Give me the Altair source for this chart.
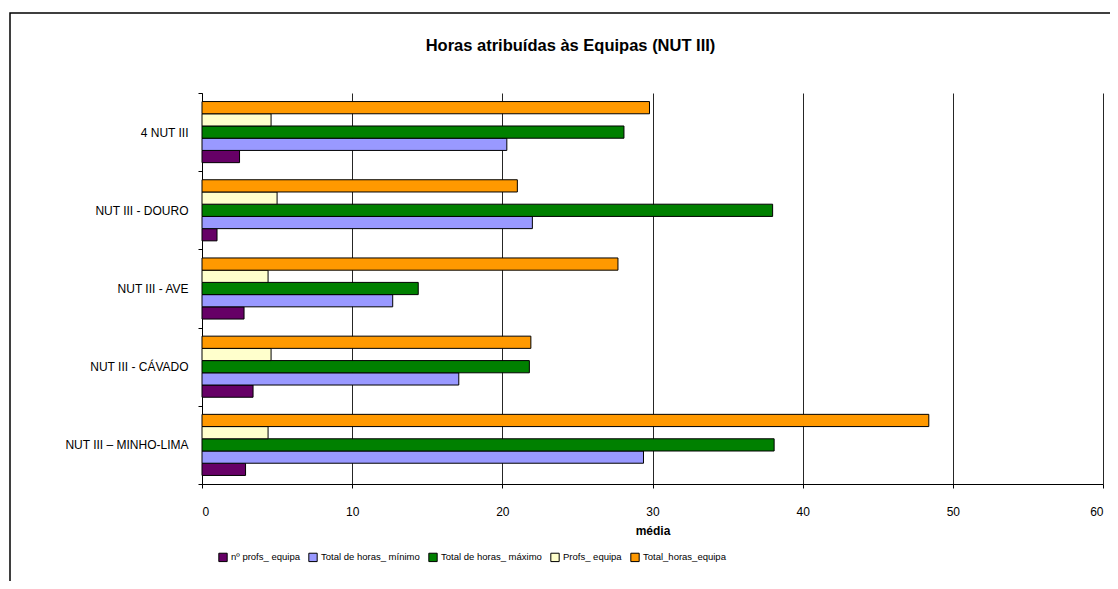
import altair as alt
import pandas as pd

categories = ["4 NUT III", "NUT III - DOURO", "NUT III - AVE", "NUT III - CÁVADO", "NUT III – MINHO-LIMA"]
series = ["nº profs_ equipa", "Total de horas_ mínimo", "Total de horas_ máximo", "Profs_ equipa", "Total_horas_equipa"]
colors = ["#660066", "#9999FF", "#008000", "#FFFFCC", "#FF9900"]

n_profs_equipa = [2.5, 1.0, 2.8, 3.4, 2.9]
horas_minimo = [20.3, 22.0, 12.7, 17.1, 29.4]
horas_maximo = [28.1, 38.0, 14.4, 21.8, 38.1]
profs_equipa = [4.6, 5.0, 4.4, 4.6, 4.4]
total_horas_equipa = [29.8, 21.0, 27.7, 21.9, 48.4]

x_ticks = [0, 10, 20, 30, 40, 50, 60]

values = [n_profs_equipa, horas_minimo, horas_maximo, profs_equipa, total_horas_equipa]
rows = []
for s, vals in zip(series, values):
    for c, v in zip(categories, vals):
        rows.append({"categoria": c, "serie": s, "media": v})
df = pd.DataFrame(rows)

FONT = "Liberation Sans Narrow, Arial Narrow, Liberation Sans, Arial, sans-serif"

bars = alt.Chart(df).mark_bar(stroke="black", strokeWidth=1).encode(
    y=alt.Y("categoria:N", sort=categories,
            scale=alt.Scale(paddingInner=0, paddingOuter=0),
            axis=alt.Axis(title=None, tickBand="extent", grid=False, domainColor="black",
                          tickColor="black", tickSize=4, labelPadding=10, labelFontSize=12,
                          labelFont=FONT, labelColor="black")),
    yOffset=alt.YOffset("serie:N", sort=series[::-1],
                        scale=alt.Scale(paddingInner=0, paddingOuter=0.7)),
    x=alt.X("media:Q", scale=alt.Scale(domain=[0, 60], nice=False),
            axis=alt.Axis(title="média", values=x_ticks, grid=True, gridColor="black",
                          gridOpacity=0.85, domainColor="black", tickColor="black", tickSize=4,
                          labelPadding=18, labelFontSize=12, labelFont=FONT, labelColor="black",
                          titleFont=FONT, titleFontSize=12, titleFontWeight="bold",
                          titlePadding=8, titleColor="black")),
    color=alt.Color("serie:N", sort=series,
                    scale=alt.Scale(domain=series, range=colors),
                    legend=alt.Legend(title=None, orient="none", direction="horizontal",
                                      legendX=16, legendY=459, symbolType="square",
                                      symbolSize=70, symbolStrokeColor="black",
                                      symbolStrokeWidth=1, labelFont=FONT, labelFontSize=9.5,
                                      labelColor="black", columnPadding=6, labelOffset=3)),
)

frame = alt.Chart(alt.Data(values=[{}])).mark_rect(
    filled=False, stroke="black", strokeWidth=1.5
).encode(x=alt.value(-192), x2=alt.value(1100), y=alt.value(-80), y2=alt.value(700))

chart = alt.layer(frame, bars).properties(
    width=901, height=391,
    title=alt.Title("Horas atribuídas às Equipas (NUT III)", font=FONT, fontSize=16.5,
                    fontWeight="bold", color="black", anchor="middle", dx=-82, offset=45,
                    dy=100, frame="group", baseline="alphabetic"),
    autosize=alt.AutoSizeParams(type="none"),
    padding={"left": 194, "top": 85, "right": 7, "bottom": 97},
).configure_view(stroke=None)

chart.save("out.html", embed_options={"renderer": "svg", "actions": False})
